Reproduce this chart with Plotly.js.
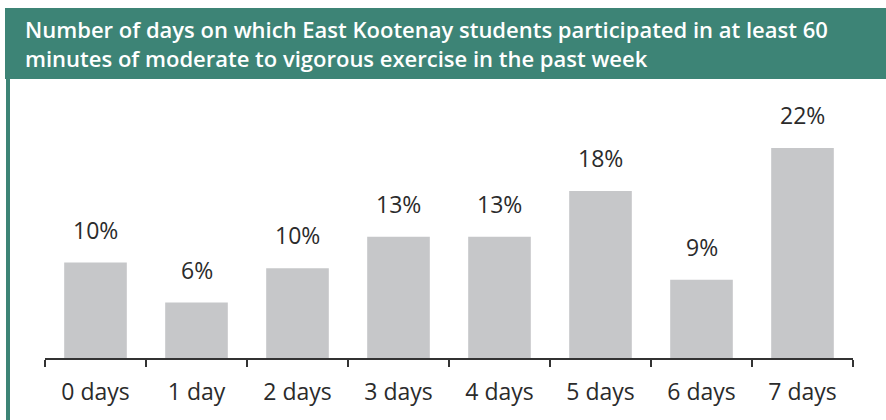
<!DOCTYPE html>
<html>
<head>
<meta charset="utf-8">
<script src="https://cdn.plot.ly/plotly-3.0.1.min.js"></script>
<style>html,body{margin:0;padding:0;background:#fff;}#chart{width:886px;height:420px;}</style>
</head>
<body>
<div id="chart"></div>
<script>
// Data
const categories = ["0 days", "1 day", "2 days", "3 days", "4 days", "5 days", "6 days", "7 days"];
const values = [10.0, 5.8, 9.4, 12.7, 12.7, 17.5, 8.2, 22.0];
const valueLabels = ["10%", "6%", "10%", "13%", "13%", "18%", "9%", "22%"];
const titleLines = ["Number of days on which East Kootenay students participated in at least 60",
                    "minutes of moderate to vigorous exercise in the past week"];

// Layout geometry (pixels)
const W = 886, H = 420;
const M = {l: 45, r: 33, t: 90, b: 62};
const plotW = W - M.l - M.r, plotH = H - M.t - M.b;
const px = v => (v - M.l) / plotW;
const py = v => (H - M.b - v) / plotH;

const green = "#3d8476";
const font = "'Open Sans', 'Segoe UI', sans-serif";

const trace = {
  type: "bar",
  x: categories,
  y: values,
  width: 0.62,
  marker: {color: "#c6c7c9"},
  hoverinfo: "skip"
};

const annotations = categories.map((c, i) => ({
  x: c, y: values[i], xref: "x", yref: "y",
  text: valueLabels[i], showarrow: false,
  yanchor: "bottom", yshift: 15,
  font: {family: font, size: 23, color: "#2b2b2b"}
}));
annotations.push({
  xref: "paper", yref: "paper", x: px(23), y: py(43),
  xanchor: "left", yanchor: "middle", align: "left",
  text: titleLines.join("<br>"), showarrow: false,
  font: {family: font, size: 22, color: "#ffffff", weight: 600}
});

const layout = {
  width: W, height: H,
  margin: M,
  paper_bgcolor: "#ffffff", plot_bgcolor: "#ffffff",
  showlegend: false,
  xaxis: {
    type: "category", range: [-0.5, 7.5],
    showline: true, linecolor: "#333333", linewidth: 2,
    ticks: "outside", tickson: "boundaries", ticklen: 7, tickwidth: 2, tickcolor: "#333333",
    ticklabelstandoff: 12,
    showgrid: false, zeroline: false,
    tickfont: {family: font, size: 23, color: "#2b2b2b"},
    fixedrange: true
  },
  yaxis: {
    range: [0, plotH / 9.55],
    visible: false, showgrid: false, zeroline: false, fixedrange: true
  },
  shapes: [
    {type: "rect", xref: "paper", yref: "paper", x0: px(5), x1: px(886), y0: py(79), y1: py(8),
     fillcolor: green, line: {width: 0}, layer: "below"},
    {type: "rect", xref: "paper", yref: "paper", x0: px(6), x1: px(10), y0: py(420), y1: py(79),
     fillcolor: green, line: {width: 0}, layer: "below"}
  ],
  annotations: annotations
};

Plotly.newPlot("chart", [trace], layout, {displayModeBar: false, staticPlot: true});
</script>
</body>
</html>
